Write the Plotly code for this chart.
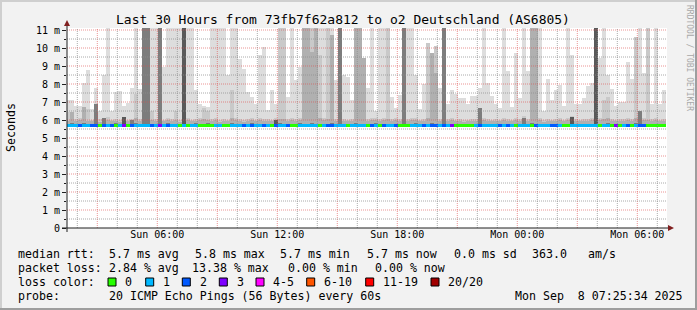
import plotly.graph_objects as go

# ---------------- data ----------------
F = 11.5          # "off the chart" (smoke reaching the top)
T0 = 1.435        # start of first bin, hours since Sun 00:00
STEP = 0.2        # 12-minute bins

smoke_max = [
    7.1, 7.1, 6.8, 6.8, 8.05, 8.8, 6.6, 7.8, 6.5, 8.5,
    F, 6.5, 7.55, 7.6, 6.8, 6.95, 7.8, F, 7.75, F,
    F, F, F, F, 8.95, F, F, F, F, F,
    F, F, 7.65, 6.9, 6.8, 6.7, F, F, F, F,
    8.5, F, F, 9.4, 8.85, 7.55, 7.3, 6.9, 9.6, 10.05,
    6.55, 7.65, 6.9, F, F, 7.3, F, 8.2, 8.95, F,
    F, F, F, F, F, F, F, 8.2, F, 8.5,
    8.4, 7.1, F, F, 9.45, 7.8, F, 6.5, F, F,
    F, 7.3, 6.67, 7.4, F, F, F, 8.5, 6.6, 8.0,
    10.3, 9.75, 10.1, 7.8, F, 6.9, 7.65, 7.45, 7.2, 7.2,
    6.9, 7.35, 7.35, 7.8, F, 8.05, 7.35, 6.9, 6.67, F,
    8.7, 6.7, 9.7, 7.2, F, 8.75, F, F, F, 6.5,
    8.3, 7.1, 7.65, 7.95, 6.8, F, 9.6, 6.9, 6.9, 7.2,
    7.9, 8.05, F, 9.45, F, 8.5, 7.75, 6.8, 7.0, 7.0,
    9.2, 8.3, 10.6, F, 8.6, F, 6.9, F, 6.9, 7.65,
]
smoke_q1 = [
    6.45, 6.1, 6.05, 6.1, 6.1, 6.6, 6.0, 6.1, 6.05, 6.1,
    6.15, 6.0, 6.05, 6.0, 6.1, 6.0, 6.05, 7.45, 6.05, 6.1,
    6.1, 6.5, 6.05, 6.1, 6.0, 6.1, 6.05, 6.5, 6.0, 6.1,
    6.1, 6.0, 6.05, 6.1, 6.67, 6.5, 6.05, 6.1, 6.0, 6.05,
    6.0, 7.65, 6.1, 6.05, 6.0, 6.05, 6.1, 6.0, 6.1, 6.05,
    6.05, 6.0, 6.1, F, F, 6.05, 6.1, 6.05, 6.1, F,
    F, F, F, 9.6, 6.1, F, 6.1, 6.05, 6.1, 6.05,
    6.0, 6.05, F, F, 9.45, 6.05, 6.1, 6.1, 6.05, 6.1,
    F, 6.05, 6.1, 6.05, 6.1, 6.05, 6.1, 6.1, 6.0, 6.05,
    10.3, 9.75, 10.1, 6.05, 6.1, 6.05, 6.1, 6.0, 6.05, 6.0,
    6.0, 6.05, 6.05, 6.3, 6.1, 6.05, 6.0, 6.05, 6.0, 6.1,
    6.05, 6.0, 6.1, 6.05, 6.2, 6.05, F, F, 6.1, 6.0,
    6.05, 6.0, 6.05, 6.1, 6.0, 6.1, 6.2, 6.05, 6.0, 6.05,
    6.05, 6.1, F, 6.1, 7.1, 7.3, 6.05, 6.0, 6.05, 6.05,
    6.1, 6.05, 10.6, 6.2, 6.1, F, 6.05, 6.1, 6.0, 6.05,
]
smoke_q2 = [
    5.95, 6.45, 5.92, 5.98, 6.75, 5.95, 5.92, 5.98, 5.9, 5.95,
    6.0, 5.92, 5.95, 5.9, 5.98, 5.92, 5.95, 6.1, 5.95, F,
    F, 5.98, 5.95, F, 5.92, 5.98, 5.95, 6.0, 5.9, F,
    5.98, 5.92, 5.95, 5.98, 6.05, 6.0, 5.95, 5.98, 5.9, 5.95,
    5.92, 6.1, 5.98, 5.95, 5.9, 5.95, 5.98, 5.92, 5.98, 5.95,
    5.95, 5.92, 6.0, 6.05, 6.05, 5.95, 5.98, 5.95, 5.98, F,
    F, 9.8, F, 6.1, 5.98, 6.05, 10.7, 5.95, F, 5.95,
    5.92, 5.95, F, F, 9.45, 5.95, 5.98, 6.0, 5.95, 5.98,
    6.05, 5.95, 5.98, 5.95, F, 5.95, 5.98, 6.0, 5.92, 5.95,
    6.1, 9.75, 8.6, 5.95, F, 5.95, 5.98, 5.92, 5.95, 5.9,
    5.92, 5.95, 5.95, 6.67, 5.98, 5.95, 5.92, 5.95, 5.92, 5.98,
    5.95, 5.92, 5.98, 5.95, 6.1, 5.95, F, F, 5.98, 5.9,
    5.95, 5.92, 5.95, 5.98, 5.92, 5.98, 6.17, 5.95, 5.92, 5.95,
    5.95, 5.98, F, 5.98, 6.05, 6.1, 5.95, 5.92, 5.95, 5.95,
    6.0, 5.95, 6.1, 6.5, 5.98, 6.0, 5.95, 5.98, 5.92, 5.95,
]
smoke_q3 = [
    5.8, 5.85, 5.8, 5.8, 5.85, 5.8, 5.8, 6.9, 5.8, 6.1,
    5.8, 5.8, 5.85, 5.8, 6.17, 5.8, 6.0, 5.85, 5.8, F,
    F, 5.8, 5.8, F, 5.8, 5.85, 5.8, 5.8, 5.8, F,
    5.8, 5.8, 5.85, 5.8, 5.8, 5.85, 5.8, 5.8, 5.8, 5.8,
    5.8, 5.85, 5.8, 5.8, 5.8, 5.8, 5.85, 5.8, 5.8, 5.8,
    5.8, 5.8, 6.0, 5.85, 5.8, 5.8, 5.8, 5.8, 5.85, 5.8,
    5.8, 5.85, 5.8, 5.8, 5.8, 5.8, 5.85, 5.8, F, 5.8,
    5.8, 5.8, 5.85, 5.8, 5.8, 5.8, 5.8, 5.85, 5.8, 5.8,
    5.8, 5.8, 5.8, 5.8, F, 5.8, 5.8, 5.85, 5.8, 5.8,
    5.8, 5.85, 5.8, 5.8, F, 5.8, 5.8, 5.8, 5.8, 5.8,
    5.8, 5.8, 5.8, 6.67, 5.8, 5.8, 5.8, 5.8, 5.8, 5.8,
    5.8, 5.8, 5.8, 5.8, 6.1, 5.8, 5.85, 5.8, 5.8, 5.8,
    5.8, 5.8, 5.8, 5.8, 5.8, 5.8, 6.17, 5.8, 5.8, 5.8,
    5.8, 5.8, F, 5.8, 5.8, 5.85, 5.8, 5.8, 5.8, 5.8,
    5.8, 5.8, 5.85, 6.5, 5.8, 5.8, 5.8, 5.8, 5.8, 5.8,
]
smoke_q4 = [
    5.8, 5.8, 5.8, 5.8, 5.8, 5.8, 5.8, 5.8, 5.8, 5.8,
    5.8, 5.8, 5.8, 5.8, 6.17, 5.8, 5.8, 5.8, 5.8, 5.8,
    5.8, 5.8, 5.8, 5.8, 5.8, 5.8, 5.8, 5.8, 5.8, F,
    5.8, 5.8, 5.8, 5.8, 5.8, 5.8, 5.8, 5.8, 5.8, 5.8,
    5.8, 5.8, 5.8, 5.8, 5.8, 5.8, 5.8, 5.8, 5.8, 5.8,
    5.8, 5.8, 6.0, 5.8, 5.8, 5.8, 5.8, 5.8, 5.8, 5.8,
    5.8, 5.8, 5.8, 5.8, 5.8, 5.8, 5.8, 5.8, 5.8, 5.8,
    5.8, 5.8, 5.8, 5.8, 5.8, 5.8, 5.8, 5.8, 5.8, 5.8,
    5.8, 5.8, 5.8, 5.8, 5.8, 5.8, 5.8, 5.8, 5.8, 5.8,
    5.8, 5.8, 5.8, 5.8, 5.8, 5.8, 5.8, 5.8, 5.8, 5.8,
    5.8, 5.8, 5.8, 5.8, 5.8, 5.8, 5.8, 5.8, 5.8, 5.8,
    5.8, 5.8, 5.8, 5.8, 5.8, 5.8, 5.8, 5.8, 5.8, 5.8,
    5.8, 5.8, 5.8, 5.8, 5.8, 5.8, 6.17, 5.8, 5.8, 5.8,
    5.8, 5.8, F, 5.8, 5.8, 5.8, 5.8, 5.8, 5.8, 5.8,
    5.8, 5.8, 5.8, 5.8, 5.8, 5.8, 5.8, 5.8, 5.8, 5.8,
]
median = [
    5.67, 5.67, 5.72, 5.72, 5.72, 5.72, 5.72, 5.72, 5.72, 5.72,
    5.72, 5.72, 5.72, 5.72, 5.72, 5.72, 5.72, 5.72, 5.72, 5.72,
    5.72, 5.72, 5.72, 5.72, 5.72, 5.72, 5.72, 5.72, 5.72, 5.72,
    5.72, 5.72, 5.72, 5.72, 5.72, 5.72, 5.72, 5.72, 5.72, 5.72,
    5.72, 5.72, 5.72, 5.72, 5.72, 5.72, 5.72, 5.72, 5.72, 5.72,
    5.72, 5.72, 5.72, 5.72, 5.72, 5.72, 5.72, 5.72, 5.72, 5.72,
    5.72, 5.72, 5.72, 5.72, 5.72, 5.72, 5.72, 5.72, 5.72, 5.72,
    5.72, 5.72, 5.72, 5.72, 5.72, 5.72, 5.72, 5.72, 5.72, 5.72,
    5.72, 5.72, 5.72, 5.72, 5.72, 5.72, 5.72, 5.72, 5.72, 5.72,
    5.72, 5.72, 5.72, 5.72, 5.72, 5.72, 5.72, 5.72, 5.72, 5.72,
    5.72, 5.72, 5.72, 5.72, 5.72, 5.72, 5.72, 5.72, 5.72, 5.72,
    5.72, 5.72, 5.72, 5.72, 5.72, 5.72, 5.72, 5.72, 5.67, 5.67,
    5.67, 5.72, 5.72, 5.72, 5.72, 5.72, 5.72, 5.72, 5.72, 5.72,
    5.72, 5.72, 5.72, 5.72, 5.72, 5.72, 5.72, 5.72, 5.72, 5.72,
    5.72, 5.72, 5.67, 5.72, 5.72, 5.72, 5.72, 5.72, 5.72, 5.72,
]
loss = [
    1, 1, 1, 2, 1, 1, 2, 2, 0, 2,
    1, 2, 0, 1, 3, 0, 2, 1, 1, 1,
    1, 2, 1, 3, 1, 2, 1, 1, 0, 1,
    0, 1, 1, 0, 0, 0, 0, 1, 1, 0,
    0, 1, 1, 1, 2, 1, 2, 1, 1, 2,
    1, 0, 2, 1, 1, 2, 0, 0, 1, 1,
    1, 1, 1, 0, 1, 2, 2, 1, 1, 1,
    0, 1, 1, 1, 1, 0, 2, 1, 0, 2,
    1, 1, 2, 0, 0, 0, 1, 1, 1, 2,
    1, 2, 2, 1, 2, 1, 3, 0, 0, 0,
    0, 0, 1, 2, 1, 1, 1, 1, 2, 1,
    2, 1, 0, 1, 1, 1, 0, 2, 1, 1,
    1, 2, 2, 1, 0, 0, 1, 1, 1, 1,
    1, 1, 1, 0, 1, 1, 0, 3, 0, 1,
    2, 0, 1, 2, 2, 0, 0, 0, 0, 0,
]
x_ticks = [3, 6, 9, 12, 15, 18, 21, 24, 27, 30]
x_ticktext = ["", "Sun 06:00", "", "Sun 12:00", "", "Sun 18:00", "", "Mon 00:00", "", "Mon 06:00"]
y_ticks = [0, 1, 2, 3, 4, 5, 6, 7, 8, 9, 10, 11]
y_ticktext = ["0", "1 m", "2 m", "3 m", "4 m", "5 m", "6 m", "7 m", "8 m", "9 m", "10 m", "11 m"]
legend_labels = ["0", "1", "2", "3", "4-5", "6-10", "11-19", "20/20"]
legend_colors = ["#26ff00", "#00b8ff", "#0059ff", "#7e00ff", "#ff00ff", "#ff5500", "#ff0000", "#a10000"]

# ---------------- figure ----------------
W, H = 697, 310
ML, MR, MT, MB = 67, 30, 28, 82
PW, PH = W - ML - MR, H - MT - MB
X0 = 1.485
Y1 = 11.111
MONO = "DejaVu Sans Mono"


def pxx(x):
    return (x - ML) / PW


def pyy(y):
    return (H - MB - y) / PH


n = len(smoke_max)
xs = [T0 + STEP * (i + 0.5) for i in range(n)]
FLOOR = 5.64

fig = go.Figure()
layers = [
    (smoke_max, "#dddddd"),
    (smoke_q1, "#c9c9c9"),
    (smoke_q2, "#b0b0b0"),
    (smoke_q3, "#7d7d7d"),
    (smoke_q4, "#595959"),
]
for tops, col in layers:
    fig.add_trace(go.Bar(
        x=xs, y=[t - FLOOR for t in tops], base=FLOOR, width=STEP,
        marker=dict(color=col, line=dict(width=0)), hoverinfo="skip",
        showlegend=False,
    ))

MED_H = 0.17
loss_color_map = {i: c for i, c in enumerate(legend_colors)}
fig.add_trace(go.Bar(
    x=xs, y=[MED_H] * n, base=[m - MED_H / 2 for m in median], width=STEP,
    marker=dict(color=[loss_color_map[l] for l in loss], line=dict(width=0)),
    hoverinfo="skip", showlegend=False,
))

shapes = []
MINOR = "rgba(143,143,143,0.75)"
MAJOR = "rgba(222,79,79,0.6)"
for h in range(2, 32):
    col = MAJOR if h % 3 == 0 else MINOR
    shapes.append(dict(type="line", xref="x", yref="paper", x0=h, x1=h, y0=0, y1=1,
                       line=dict(color=col, width=1, dash="1px,1px"), layer="above"))
for k in range(1, 23):
    v = k * 0.5
    col = MAJOR if k % 2 == 0 else MINOR
    shapes.append(dict(type="line", xref="paper", yref="y", x0=0, x1=1, y0=v, y1=v,
                       line=dict(color=col, width=1, dash="1px,1px"), layer="above"))

AXIS = "#1f1f1f"
ARROW = "#801f1f"
# axis lines
shapes.append(dict(type="line", xref="paper", yref="paper", x0=pxx(62), x1=pxx(670),
                   y0=pyy(228), y1=pyy(228), line=dict(color=AXIS, width=1), layer="above"))
shapes.append(dict(type="line", xref="paper", yref="paper", x0=pxx(67), x1=pxx(67),
                   y0=pyy(232), y1=pyy(24), line=dict(color=AXIS, width=1), layer="above"))
# arrows
shapes.append(dict(type="path", xref="paper", yref="paper",
                   path=f"M {pxx(67)},{pyy(20)} L {pxx(64)},{pyy(26)} L {pxx(70)},{pyy(26)} Z",
                   fillcolor=ARROW, line=dict(color=ARROW, width=0), layer="above"))
shapes.append(dict(type="path", xref="paper", yref="paper",
                   path=f"M {pxx(674)},{pyy(228)} L {pxx(668)},{pyy(225)} L {pxx(668)},{pyy(231)} Z",
                   fillcolor=ARROW, line=dict(color=ARROW, width=0), layer="above"))
# frame shading
shapes.append(dict(type="rect", xref="paper", yref="paper", x0=pxx(0), x1=pxx(W), y0=pyy(0), y1=pyy(2),
                   fillcolor="#cfcfcf", line=dict(width=0), layer="below"))
shapes.append(dict(type="rect", xref="paper", yref="paper", x0=pxx(0), x1=pxx(2), y0=pyy(0), y1=pyy(H),
                   fillcolor="#cfcfcf", line=dict(width=0), layer="below"))
shapes.append(dict(type="rect", xref="paper", yref="paper", x0=pxx(0), x1=pxx(W), y0=pyy(H - 2), y1=pyy(H),
                   fillcolor="#9e9e9e", line=dict(width=0), layer="below"))
shapes.append(dict(type="rect", xref="paper", yref="paper", x0=pxx(W - 2), x1=pxx(W), y0=pyy(0), y1=pyy(H),
                   fillcolor="#9e9e9e", line=dict(width=0), layer="below"))

annotations = []


def text(s, x, y, size=11.6, anchor="left", angle=0, color="#000000"):
    annotations.append(dict(text=s.replace("  ", "\u00a0\u00a0"), x=pxx(x), y=pyy(y),
                            xref="paper", yref="paper", xanchor=anchor, yanchor="middle",
                            showarrow=False, textangle=angle,
                            font=dict(family=MONO, size=size, color=color)))


text("Last 30 Hours from 73fb7f62a812 to o2 Deutschland (AS6805)", 343, 19, size=13, anchor="center")
text("Seconds", 11, 128, size=11.6, anchor="center", angle=-90)
text("RRDTOOL / TOBI OETIKER", 690, 58, size=8, anchor="center", angle=90, color="#a8a8a8")

line1 = [("median rtt:", 16), ("5.7 ms avg", 107.3), ("5.8 ms max", 192.7), ("5.7 ms min", 278.3),
         ("5.7 ms now", 365), ("0.0 ms sd", 451.7), ("363.0", 530), ("am/s", 586)]
line2 = [("packet loss:", 16), ("2.84 % avg", 107.3), ("13.38 % max", 189.5),
         ("0.00 % min", 286), ("0.00 % now", 372.7)]
line4 = [("probe:", 16), ("20 ICMP Echo Pings (56 Bytes) every 60s", 107.3),
         ("Mon Sep  8 07:25:34 2025", 512.7)]
for s, x in line1:
    text(s, x, 254)
for s, x in line2:
    text(s, x, 268)
text("loss color:", 16, 282)
for s, x in line4:
    text(s, x, 296)

box_x = [108, 145.7, 182.3, 219.3, 256, 306.7, 365.7, 431]
for bx, lab, col in zip(box_x, legend_labels, legend_colors):
    shapes.append(dict(type="rect", xref="paper", yref="paper", x0=pxx(bx), x1=pxx(bx + 8),
                       y0=pyy(278), y1=pyy(286), fillcolor=col, line=dict(color="#000000", width=1),
                       layer="above"))
    text(lab, bx + 15.3, 282)

fig.update_layout(
    width=W, height=H,
    margin=dict(l=ML, r=MR, t=MT, b=MB, pad=0),
    paper_bgcolor="#f2f2f2", plot_bgcolor="#ffffff",
    barmode="overlay", bargap=0, showlegend=False,
    shapes=shapes, annotations=annotations,
    xaxis=dict(range=[X0, X0 + 30], showgrid=False, zeroline=False, showline=False,
               tickmode="array", tickvals=x_ticks, ticktext=x_ticktext,
               ticks="", ticklabelstandoff=-1,
               tickfont=dict(family=MONO, size=10, color="#000000"), fixedrange=True),
    yaxis=dict(range=[0, Y1], showgrid=False, zeroline=False, showline=False,
               tickmode="array", tickvals=y_ticks, ticktext=y_ticktext,
               ticks="outside", ticklen=4, tickcolor=AXIS,
               minor=dict(dtick=0.5, ticks="outside", ticklen=2, tickcolor=AXIS, showgrid=False),
               tickfont=dict(family=MONO, size=10, color="#000000"), fixedrange=True),
)

fig.write_html("out.html", config={"displayModeBar": False, "staticPlot": True})
